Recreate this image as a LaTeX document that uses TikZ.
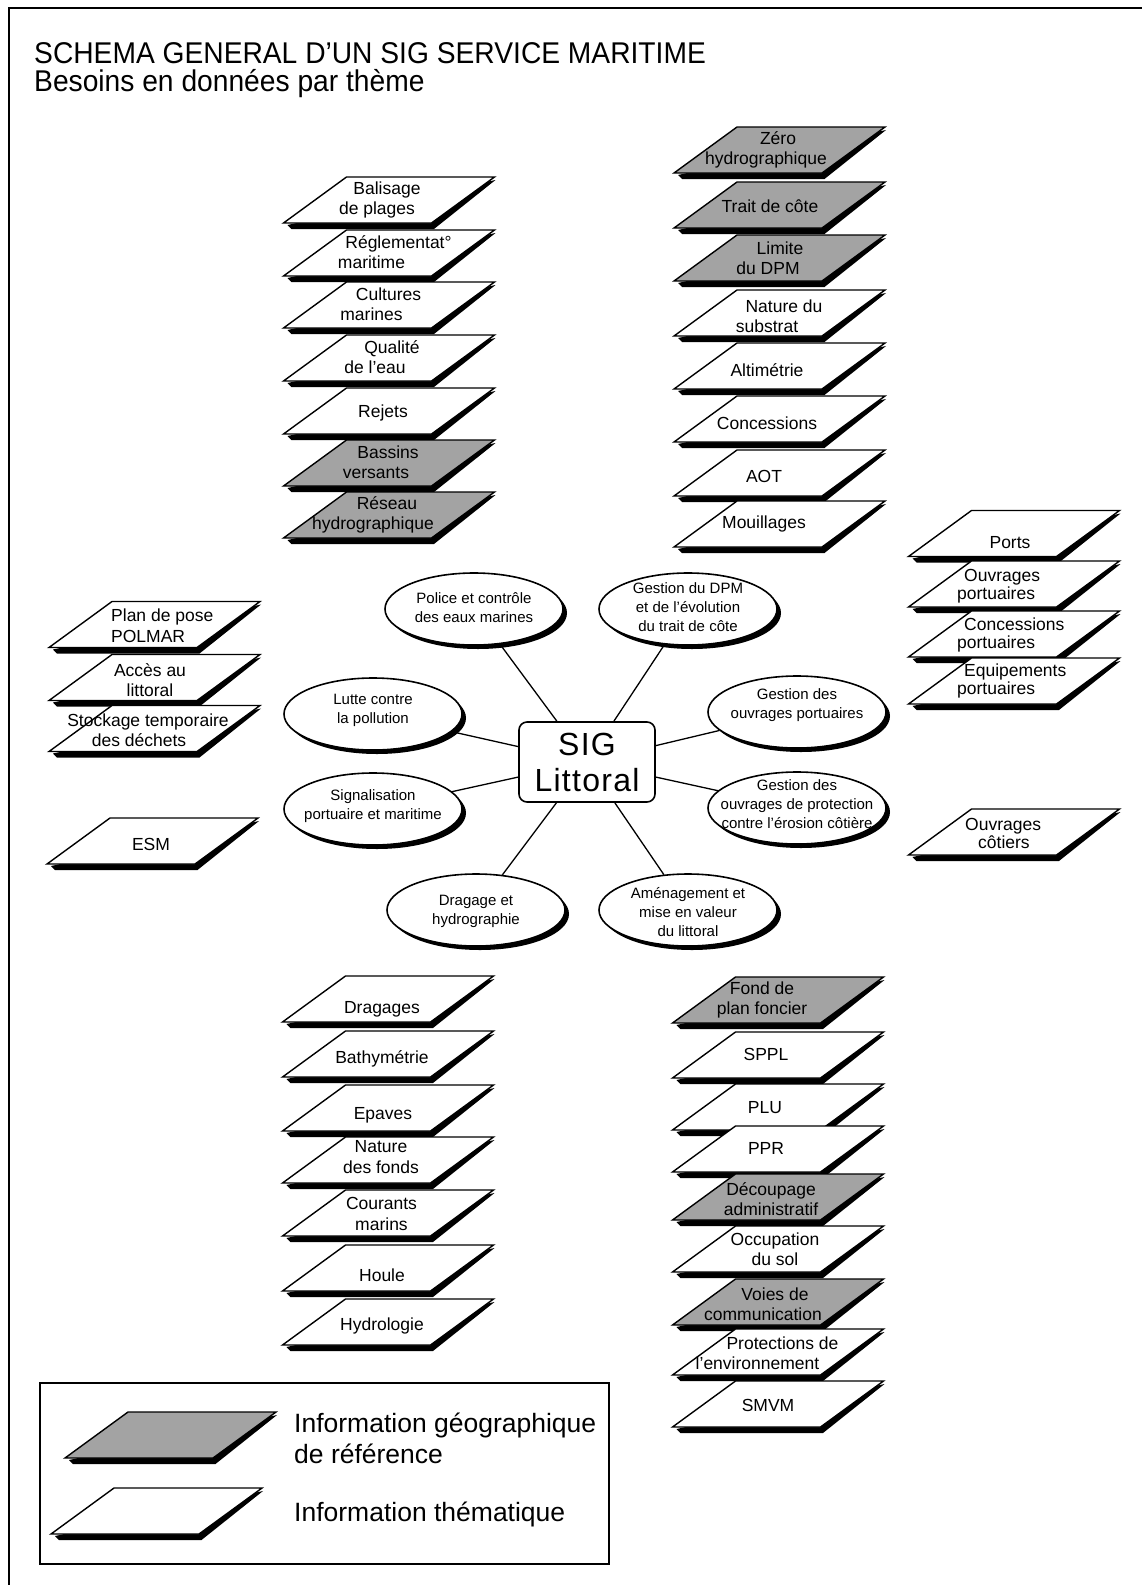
\documentclass[tikz,border=0pt]{standalone}
\usepackage{fontspec}
\setmainfont{Liberation Sans}
\newfontfamily\sigfont{Liberation Sans}[LetterSpace=4]
\usepackage{graphicx}
\usetikzlibrary{shapes.geometric,shadows}
\definecolor{refgray}{RGB}{163,163,163}
\tikzset{
  lbl/.style={align=center, inner sep=0pt, font=\fontsize{17.5}{20.5}\selectfont},
  lblL/.style={align=left, anchor=west, inner sep=0pt},
  outl/.style={line width=1.4pt, line join=miter},
  ell/.style={ellipse, draw, line width=1.6pt, fill=white, minimum width=178, minimum height=72, inner sep=0pt,
    drop shadow={shadow xshift=4pt, shadow yshift=-4pt, fill=black, opacity=1}},
  etxt/.style={align=center, inner sep=0pt, font=\fontsize{15}{19}\selectfont},
  conn/.style={line width=1.3pt},
  frameline/.style={line width=2.5pt},
}
\newcommand\sh[1]{\hspace*{#1pt}}
% #1 name, #2 x, #3 y, #4 fill, #5 label options, #6 tx, #7 ty, #8 text
\newcommand\lay[8]{%
  \fill[black] (#2+106.5,#3-20) -- (#2+45,#3+29) -- (#2-97.5,#3+29) -- (#2-101.5,#3+25) -- cycle;
  \filldraw[fill=#4,outl] (#2-105.5,#3+23) -- (#2+42.5,#3+23) -- (#2+105.5,#3-23) -- (#2-42.5,#3-23) -- cycle;
  \node[lbl,#5] (#1) at (#6,#7) {#8};
}
\begin{document}
\begin{tikzpicture}[x=1pt,y=-1pt]
\useasboundingbox[fill=white] (0,0) rectangle (1142,1585);
% frame
\draw[frameline] (9,1585) -- (9,8) -- (1142,8);
% title
\node[anchor=west, inner sep=0pt] (title1) at (34,53) {\scalebox{0.94}[1]{\fontsize{30}{34}\selectfont SCHEMA GENERAL D'UN SIG SERVICE MARITIME}};
\node[anchor=west, inner sep=0pt] (title2) at (34,84) {\scalebox{0.94}[1]{\fontsize{30}{34}\selectfont Besoins en données par thème}};

% column A
\lay{balisage}{389}{200}{white}{}{382}{200}{\sh{10}Balisage\\de plages\sh{10}}
\lay{reglem}{389}{253}{white}{}{385}{252}{\sh{27}Réglementat°\\maritime\sh{27}}
\lay{cultures}{389}{305}{white}{}{380}{304}{\sh{17}Cultures\\marines\sh{17}}
\lay{qualite}{389}{358}{white}{}{383.5}{357}{\sh{17}Qualité\\de l'eau\sh{17}}
\lay{rejets}{389}{411}{white}{}{383}{413}{Rejets}
\lay{bassins}{389}{463}{refgray}{}{382}{462}{\sh{12}Bassins\\versants\sh{12}}
\lay{reseau}{389}{515}{refgray}{}{380}{515}{\sh{14}Réseau\\hydrographique\sh{14}}

% column B
\lay{zero}{779.5}{150}{refgray}{}{772}{150}{\sh{12}Zéro\\hydrographique\sh{12}}
\lay{trait}{779.5}{205}{refgray}{}{770}{206}{Trait de côte}
\lay{limite}{779.5}{258}{refgray}{}{774}{258}{\sh{12}Limite\\du DPM\sh{12}}
\lay{nature}{779.5}{313}{white}{}{775.5}{316}{\sh{17}Nature du\\substrat\sh{17}}
\lay{altim}{779.5}{366}{white}{}{767}{370}{Altimétrie}
\lay{concess}{779.5}{419}{white}{}{767}{423}{Concessions}
\lay{aot}{779.5}{473}{white}{}{764}{476}{AOT}
\lay{mouill}{779.5}{524}{white}{}{764}{524}{Mouillages}

% column C
\lay{ports}{1014}{533.5}{white}{}{1010}{543}{Ports}
\lay{ouvport}{1014}{584}{white}{lblL,font=\fontsize{17.5}{18.5}\selectfont}{957}{586}{\sh{7}Ouvrages\\portuaires}
\lay{concport}{1014}{634}{white}{lblL,font=\fontsize{17.5}{18.5}\selectfont}{957}{635}{\sh{7}Concessions\\portuaires}
\lay{equip}{1014}{681}{white}{lblL,font=\fontsize{17.5}{18.5}\selectfont}{957}{681}{\sh{7}Equipements\\portuaires}

% column D
\lay{polmar}{154.5}{624.5}{white}{lblL}{111}{625.5}{Plan de pose\\POLMAR}
\lay{acces}{154.5}{677.5}{white}{}{150}{680}{Accès au\\littoral}
\lay{stock}{154.5}{728.5}{white}{}{143.5}{730}{\sh{9}Stockage temporaire\\des déchets\sh{9}}
\lay{esm}{152.5}{841}{white}{}{151}{844}{ESM}

% column E
\lay{cotiers}{1014}{832}{white}{lblL,font=\fontsize{17.5}{18}\selectfont}{965}{833}{Ouvrages\\\sh{13}côtiers}

% column F
\lay{dragages}{388}{999}{white}{}{382}{1009}{Dragages}
\lay{bathy}{388}{1054}{white}{}{382}{1059}{Bathymétrie}
\lay{epaves}{388}{1108}{white}{}{383}{1115}{Epaves}
\lay{natfonds}{388}{1160}{white}{}{381}{1157}{Nature\\des fonds}
\lay{courants}{388}{1213}{white}{}{381.5}{1214}{Courants\\marins}
\lay{houle}{388}{1268}{white}{}{382}{1275}{Houle}
\lay{hydrol}{388}{1322}{white}{}{382}{1326}{Hydrologie}

% column G
\lay{fond}{778}{1000}{refgray}{}{762}{1000}{Fond de\\plan foncier}
\lay{sppl}{778}{1055}{white}{}{766}{1054}{SPPL}
\lay{plu}{778}{1107}{white}{}{765}{1108}{PLU}
\lay{ppr}{778}{1149}{white}{}{766}{1148}{PPR}
\lay{decoup}{778}{1197}{refgray}{}{771}{1199}{Découpage\\administratif}
\lay{occup}{778}{1249}{white}{}{775}{1249}{Occupation\\du sol}
\lay{voies}{778}{1302}{refgray}{}{769}{1304}{\sh{12}Voies de\\communication\sh{12}}
\lay{protec}{778}{1352}{white}{}{770}{1353}{\sh{25}Protections de\\l'environnement\sh{25}}
\lay{smvm}{778}{1404}{white}{}{768}{1405}{SMVM}

% centre
\node[draw, line width=1.6pt, rounded corners=8pt, fill=white, minimum width=136, minimum height=80, inner sep=0pt,
  align=center, font=\sigfont\fontsize{32}{36}\selectfont] (sig) at (587,762) {SIG\\Littoral};

\node[ell] (police) at (474,609) {};
\node[ell] (dpm) at (688,609) {};
\node[ell] (lutte) at (373,714) {};
\node[ell] (ouvp) at (797,712) {};
\node[ell] (signal) at (373,809) {};
\node[ell] (protect) at (797,808) {};
\node[ell] (dragage) at (476,910) {};
\node[ell] (amenag) at (688,910) {};

\node[etxt] (police-t) at (474,608) {Police et contrôle\\des eaux marines};
\node[etxt] (dpm-t) at (688,607) {Gestion du DPM\\et de l'évolution\\du trait de côte};
\node[etxt] (lutte-t) at (373,710) {Lutte contre\\la pollution};
\node[etxt] (ouvp-t) at (797,705) {Gestion des\\ouvrages portuaires};
\node[etxt] (signal-t) at (373,806) {Signalisation\\portuaire et maritime};
\node[etxt] (protect-t) at (797,804) {Gestion des\\ouvrages de protection\\contre l'érosion côtière};
\node[etxt] (dragage-t) at (476,911) {Dragage et\\hydrographie};
\node[etxt] (amenag-t) at (688,912) {Aménagement et\\mise en valeur\\du littoral};

\foreach \e in {police,dpm,lutte,ouvp,signal,protect,dragage,amenag}
  \draw[conn] (sig) -- (\e);

% legend
\node[draw, line width=1.5pt, minimum width=569, minimum height=181, inner sep=0pt] (legend) at (324.5,1473.5) {};
\lay{leggeo}{170.5}{1435}{refgray}{lblL,font=\fontsize{26.5}{31}\selectfont}{294}{1438}{Information géographique\\de référence}
\lay{legthem}{156.5}{1511}{white}{lblL,font=\fontsize{26.5}{31}\selectfont}{294}{1514}{Information thématique}
\end{tikzpicture}
\end{document}
